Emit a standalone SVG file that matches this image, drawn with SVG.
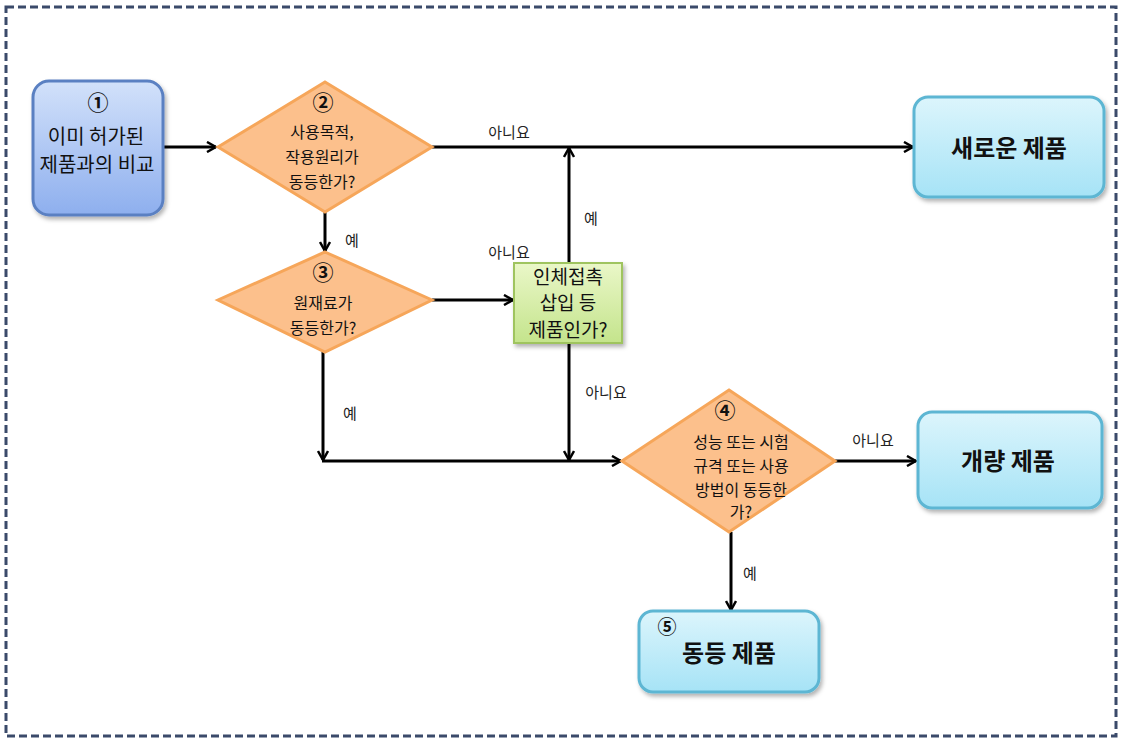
<svg xmlns="http://www.w3.org/2000/svg" width="1122" height="741" viewBox="0 0 1122 741">
<style>
text{font-family:"Noto Sans CJK KR","Noto Sans",sans-serif;fill:#111;text-anchor:middle}
.t{font-size:16px}
.n{font-size:21px;font-weight:bold}
.m{font-size:20px}
.g{font-size:19px}
.b{font-size:24px;font-weight:bold}
.lbl{font-size:15px;fill:#222}
.c{fill:none;stroke:#000;stroke-width:3}
.d{fill:#fcc08c;stroke:#f6a65a;stroke-width:3}
.p{fill:url(#gc);stroke:#5db6d3;stroke-width:3}
</style>
<defs>
<linearGradient id="gb" x1="0" y1="0" x2="0" y2="1"><stop offset="0" stop-color="#d2e1fa"/><stop offset="1" stop-color="#8eafee"/></linearGradient>
<linearGradient id="gc" x1="0" y1="0" x2="0" y2="1"><stop offset="0" stop-color="#dcf5fc"/><stop offset="1" stop-color="#a6e3f6"/></linearGradient>
<linearGradient id="gg" x1="0" y1="0" x2="0" y2="1"><stop offset="0" stop-color="#eaf7c8"/><stop offset="1" stop-color="#c4e48c"/></linearGradient>
<filter id="sh" x="-10%" y="-10%" width="130%" height="130%"><feDropShadow dx="2" dy="3" stdDeviation="2" flood-color="#000" flood-opacity="0.3"/></filter>
<marker id="a" viewBox="0 0 12 12" refX="11" refY="6" markerWidth="12" markerHeight="12" markerUnits="userSpaceOnUse" orient="auto"><path d="M2,1 L11,6 L2,11" fill="none" stroke="#000" stroke-width="2.5"/></marker>
</defs>
<rect x="6" y="7" width="1110" height="729" fill="#fff" stroke="#3b4a6a" stroke-width="3" stroke-dasharray="8,4"/>
<g id="connectors">
<line class="c" x1="163" y1="147" x2="216" y2="147" marker-end="url(#a)"/>
<line class="c" x1="432" y1="147" x2="913" y2="147" marker-end="url(#a)"/>
<line class="c" x1="325" y1="212" x2="325" y2="251" marker-end="url(#a)"/>
<line class="c" x1="432" y1="300" x2="513" y2="300" marker-end="url(#a)"/>
<line class="c" x1="569" y1="263" x2="569" y2="148" marker-end="url(#a)"/>
<line class="c" x1="569" y1="343" x2="569" y2="460" marker-end="url(#a)"/>
<line class="c" x1="323" y1="352" x2="323" y2="460" marker-end="url(#a)"/>
<line class="c" x1="322" y1="461" x2="621" y2="461" marker-end="url(#a)"/>
<line class="c" x1="835" y1="461" x2="916" y2="461" marker-end="url(#a)"/>
<line class="c" x1="731" y1="532" x2="731" y2="610" marker-end="url(#a)"/>
<text class="lbl" x="509" y="138">아니요</text>
<text class="lbl" x="352" y="246">예</text>
<text class="lbl" x="509" y="258">아니요</text>
<text class="lbl" x="591" y="224">예</text>
<text class="lbl" x="606" y="398">아니요</text>
<text class="lbl" x="350" y="419">예</text>
<text class="lbl" x="873" y="446">아니요</text>
<text class="lbl" x="750" y="579">예</text>
</g>
<g id="n1">
<rect x="33" y="81" width="130" height="134" rx="16" fill="url(#gb)" stroke="#5a80c2" stroke-width="3" filter="url(#sh)"/>
<text class="n" x="98" y="110">①</text>
<text class="m" x="96" y="144">이미 허가된</text>
<text class="m" x="97" y="172">제품과의 비교</text>
</g>
<g id="n2">
<polygon class="d" points="325,82 432,147 325,212 218,147"/>
<text class="n" x="323" y="110">②</text>
<text class="t" x="322" y="138">사용목적,</text>
<text class="t" x="322" y="163">작용원리가</text>
<text class="t" x="322" y="188">동등한가?</text>
</g>
<g id="n3">
<polygon class="d" points="325,252 432,300 325,352 218,300"/>
<text class="n" x="323" y="280">③</text>
<text class="t" x="323" y="309">원재료가</text>
<text class="t" x="323" y="334">동등한가?</text>
</g>
<g id="n_green">
<rect x="514" y="263" width="108" height="80" fill="url(#gg)" stroke="#9fc45e" stroke-width="2" filter="url(#sh)"/>
<text class="g" x="568" y="284">인체접촉</text>
<text class="g" x="568" y="310">삽입 등</text>
<text class="g" x="568" y="337">제품인가?</text>
</g>
<g id="n_new">
<rect class="p" x="914" y="97" width="190" height="100" rx="14" filter="url(#sh)"/>
<text class="b" x="1009" y="157">새로운 제품</text>
</g>
<g id="n4">
<polygon class="d" points="729,390 835,461 729,532 622,461"/>
<text class="n" x="725" y="418">④</text>
<text class="t" x="741" y="448">성능 또는 시험</text>
<text class="t" x="741" y="472">규격 또는 사용</text>
<text class="t" x="741" y="496">방법이 동등한</text>
<text class="t" x="741" y="518">가?</text>
</g>
<g id="n_improved">
<rect class="p" x="918" y="412" width="184" height="96" rx="14" filter="url(#sh)"/>
<text class="b" x="1008" y="470">개량 제품</text>
</g>
<g id="n5">
<rect class="p" x="639" y="611" width="180" height="81" rx="14" filter="url(#sh)"/>
<text class="n" x="667" y="634" style="font-size:19px">⑤</text>
<text class="b" x="729" y="662">동등 제품</text>
</g>
</svg>
